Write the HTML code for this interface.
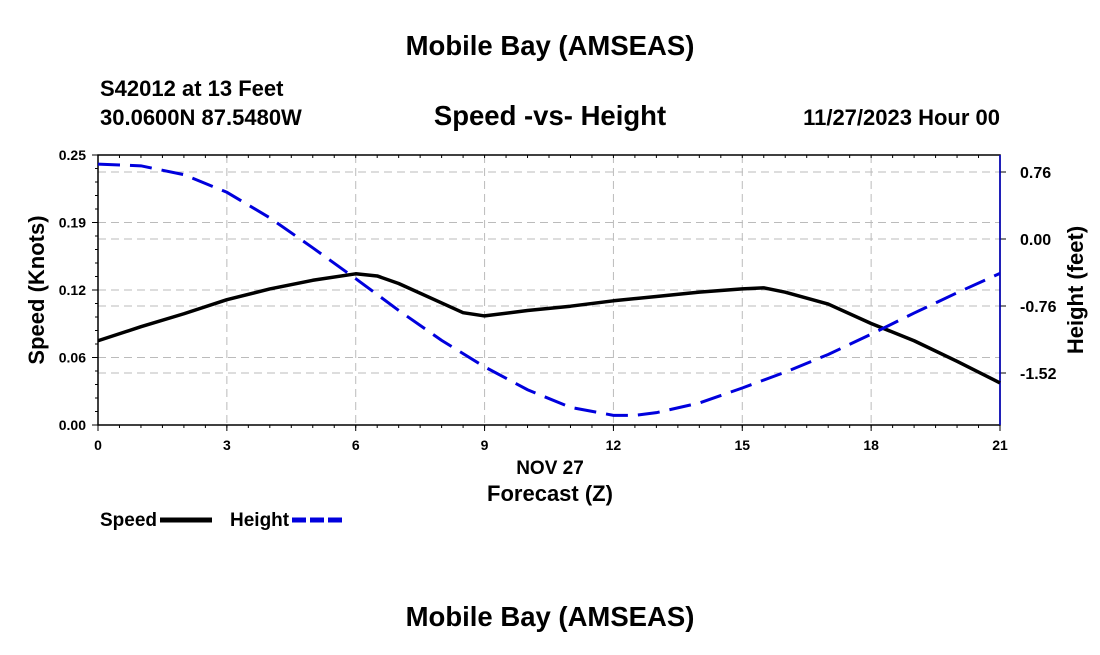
<!DOCTYPE html>
<html><head><meta charset="utf-8"><style>
body{margin:0;background:#fff;font-family:"Liberation Sans",sans-serif;}
svg text{font-family:"Liberation Sans",sans-serif;font-weight:bold;fill:#000;}
</style></head><body>
<svg id="c" width="1100" height="650">
<text x="550" y="55" font-size="27.5" text-anchor="middle">Mobile Bay (AMSEAS)</text>
<text x="100" y="96" font-size="22">S42012 at 13 Feet</text>
<text x="100" y="125" font-size="22">30.0600N  87.5480W</text>
<text x="550" y="125" font-size="27.5" text-anchor="middle">Speed -vs- Height</text>
<text x="1000" y="125" font-size="22" text-anchor="end">11/27/2023 Hour 00</text>
<g id="grid"></g>
<g id="axes"></g>
<g id="series"></g>
<text x="550" y="474" font-size="19" text-anchor="middle">NOV 27</text>
<text x="550" y="501" font-size="22" text-anchor="middle">Forecast (Z)</text>
<text transform="translate(44,290) rotate(-90)" font-size="22" text-anchor="middle">Speed (Knots)</text>
<text transform="translate(1083,290) rotate(-90)" font-size="22" text-anchor="middle">Height (feet)</text>
<g><text x="100" y="526" font-size="19">Speed</text><line x1="160" y1="520" x2="212" y2="520" stroke="#000" stroke-width="5"/></g>
<g><text x="230" y="526" font-size="19">Height</text><line x1="292" y1="520" x2="342" y2="520" stroke="#0000dd" stroke-width="5" stroke-dasharray="14,4"/></g>
<text x="550" y="626" font-size="27.5" text-anchor="middle">Mobile Bay (AMSEAS)</text>
</svg>
<script>
const hours=[0,1,2,3,4,5,6,6.5,7,8,8.5,9,10,11,12,13,14,15,15.5,16,17,18,19,20,21];
const speed=[0.078,0.091,0.103,0.116,0.126,0.134,0.140,0.138,0.131,0.113,0.104,0.101,0.106,0.110,0.115,0.119,0.123,0.126,0.127,0.123,0.112,0.094,0.078,0.059,0.039];
const hHours=[0,1,2,3,4,5,6,7,8,9,10,11,12,12.5,13,14,15,16,17,18,19,20,21];
const height=[0.85,0.83,0.73,0.53,0.24,-0.10,-0.45,-0.81,-1.15,-1.45,-1.71,-1.91,-2.00,-2.00,-1.97,-1.86,-1.69,-1.51,-1.31,-1.08,-0.84,-0.61,-0.39];
const xTicks=[0,3,6,9,12,15,18,21];
const leftTicks=[0,0.0625,0.125,0.1875,0.25];
const leftLabels=["0.00","0.06","0.12","0.19","0.25"];
const rightTicks=[0.76,0,-0.76,-1.52];
const rightLabels=["0.76","0.00","-0.76","-1.52"];
const X0=98,X1=1000,Y0=425,Y1=155;
const xs=h=>X0+(h/21)*(X1-X0);
const ys=v=>Y0-(v/0.25)*(Y0-Y1);
const yh=v=>172-(v-0.76)*67/0.76;
const NS="http://www.w3.org/2000/svg";
function mk(t,a,p){const e=document.createElementNS(NS,t);for(const k in a)e.setAttribute(k,a[k]);p.appendChild(e);return e;}
const grid=document.getElementById('grid'),axes=document.getElementById('axes'),ser=document.getElementById('series');
xTicks.forEach(t=>{if(t>0&&t<21){const l=mk('line',{x1:xs(t),x2:xs(t),y1:Y1,y2:Y0,stroke:'#bbb','stroke-dasharray':'8,5'},grid);

}
const tx=mk('text',{x:xs(t),y:450,'font-size':14,'text-anchor':'middle'},axes);tx.textContent=t;


mk('line',{x1:xs(t),x2:xs(t),y1:Y0,y2:Y0+6,stroke:'#000'},axes);});
for(let h=0;h<=21;h+=0.5){mk('line',{x1:xs(h),x2:xs(h),y1:Y0,y2:Y0+3,stroke:'#000'},axes);mk('line',{x1:xs(h),x2:xs(h),y1:Y1,y2:Y1+3,stroke:'#000'},axes);}
leftTicks.forEach((t,i)=>{if(i>0&&i<4){const l=mk('line',{x1:X0,x2:X1,y1:ys(t),y2:ys(t),stroke:'#bbb','stroke-dasharray':'8,5'},grid);

}
mk('line',{x1:X0-6,x2:X0,y1:ys(t),y2:ys(t),stroke:'#000'},axes);
const tx=mk('text',{x:X0-12,y:ys(t)+5,'font-size':14,'text-anchor':'end'},axes);tx.textContent=leftLabels[i];

});
for(let v=0;v<=0.25;v+=0.0125){mk('line',{x1:X0-3,x2:X0,y1:ys(v),y2:ys(v),stroke:'#000'},axes);}
rightTicks.forEach((t,i)=>{const l=mk('line',{x1:X0,x2:X1,y1:yh(t),y2:yh(t),stroke:'#bbb','stroke-dasharray':'8,5'},grid);


mk('line',{x1:X1,x2:X1+6,y1:yh(t),y2:yh(t),stroke:'#000'},axes);
const tx=mk('text',{x:X1+20,y:yh(t)+6,'font-size':16},axes);tx.textContent=rightLabels[i];

});
mk('rect',{x:X0,y:Y1,width:X1-X0,height:Y0-Y1,fill:'none',stroke:'#000','stroke-width':1.5},axes);
mk('line',{x1:X1,x2:X1,y1:Y1,y2:Y0,stroke:'#0000cc','stroke-width':1.5},axes);
const sp=mk('polyline',{points:hours.map((h,i)=>xs(h)+','+ys(speed[i])).join(' '),fill:'none',stroke:'#000','stroke-width':3.5,'stroke-linejoin':'round'},ser);


const hl=mk('polyline',{points:hHours.map((h,i)=>xs(h)+','+yh(height[i])).join(' '),fill:'none',stroke:'#0000dd','stroke-width':3,'stroke-dasharray':'22,10'},ser);


</script>
</body></html>
